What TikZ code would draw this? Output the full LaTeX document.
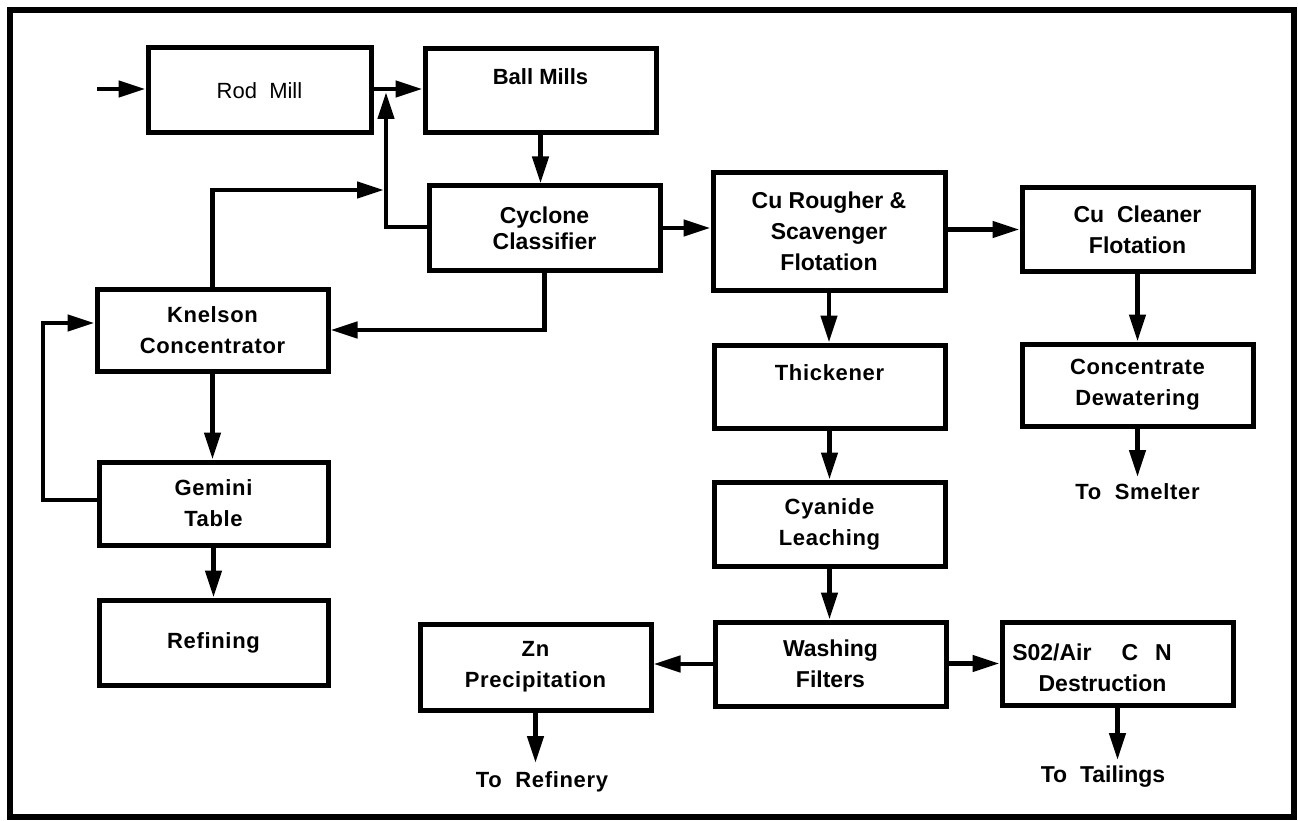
\documentclass[tikz,border=0pt]{standalone}
\usepackage{fontspec}
\setmainfont{Liberation Sans}
\usetikzlibrary{arrows.meta}
\begin{document}
\begin{tikzpicture}[x=1pt,y=-1pt,
  box/.style={draw, line width=5pt, inner sep=0pt, align=center},
  sb/.style={font=\fontsize{23}{31}\selectfont\bfseries},
  hv/.style={font=\fontsize{22}{31}\selectfont\bfseries\addfontfeature{LetterSpace=3}},
  arr/.style={line width=4.5pt, -{Triangle[length=27pt,width=16pt]}},
  lbl/.style={anchor=north, inner sep=0pt}]
\useasboundingbox (0,0) rectangle (1298,821);
\draw[line width=6pt] (10,10) rectangle (1294,817);

% boxes
\node[box, minimum width=223pt, minimum height=85pt, font=\fontsize{22}{30}\selectfont] (rod) at (259.5,90.5) {Rod\ \ Mill};
\node[box, minimum width=231pt, minimum height=84pt, font=\fontsize{22}{31}\selectfont\bfseries] (ball) at (540.5,91) {Ball Mills\\[-12pt]\strut};
\node[box, minimum width=231pt, minimum height=84pt, font=\fontsize{23}{26}\selectfont\bfseries] (cyc) at (544.5,228) {Cyclone\\Classifier};
\node[box, sb, minimum width=232pt, minimum height=117pt] (rough) at (829,231.5) {Cu Rougher \&\\Scavenger\\Flotation};
\node[box, sb, minimum width=231pt, minimum height=83pt] (clean) at (1137.5,229.5) {Cu\ \ Cleaner\\Flotation};
\node[box, hv, minimum width=231pt, minimum height=83pt] (thick) at (829.5,386.5) {Thickener\\[-12pt]\strut};
\node[box, hv, minimum width=231pt, minimum height=82pt] (conc) at (1137.5,385) {Concentrate\\Dewatering};
\node[box, hv, minimum width=231pt, minimum height=84pt] (cyan) at (829.5,524) {Cyanide\\Leaching};
\node[box, sb, minimum width=231pt, minimum height=84pt] (wash) at (830.5,664) {Washing\\Filters};
\node[box, hv, minimum width=231pt, minimum height=86pt] (zn) at (535.5,667) {Zn\\Precipitation};
\node[box, minimum width=231pt, minimum height=83pt] (so2) at (1117.5,663.5) {};
\node[sb, align=center, inner sep=0pt] (so2t) at (1092,668) {S02/Air\hspace{30pt}C\hspace{17pt}N\\\hspace*{21pt}Destruction};
\node[box, hv, minimum width=231pt, minimum height=82pt] (knel) at (212.5,330) {Knelson\\Concentrator};
\node[box, hv, minimum width=229pt, minimum height=83pt] (gem) at (213.5,503.5) {Gemini\\Table};
\node[box, hv, minimum width=229pt, minimum height=85pt] (ref) at (213.5,642.5) {Refining};

% outlet labels
\node[hv, lbl] (smelt) at (1137.5,483) {To\ \ Smelter};
\node[sb, lbl] (tail) at (1103,766) {To\ \ Tailings};
\node[hv, lbl] (refy) at (542,771) {To\ \ Refinery};

% helper points
\coordinate (in) at (97,89);
\coordinate (j1) at (386,89);
\coordinate (c1) at (386,227);
\coordinate (c2) at (386,190);
\coordinate (f1) at (43,500);
\coordinate (f2) at (43,323);

% connectors
\draw[arr] (in) -- (in -| rod.west);
\draw[arr] (j1 -| rod.east) -- (j1 -| ball.west);
\draw[arr, shorten >=3pt] (c1 -| cyc.west) -- (c1) -- (j1);
\draw[arr, shorten >=2pt] (knel.north) |- (c2);
\draw[arr] (ball.south) -- (ball.south |- cyc.north);
\draw[arr] (cyc.east) -- (cyc.east -| rough.west);
\draw[arr] (cyc.south) |- (knel.east);
\draw[arr] (knel.south) -- (knel.south |- gem.north);
\draw[arr] (f1 -| gem.west) -- (f1) -- (f2) -- (f2 -| knel.west);
\draw[arr] (gem.south) -- (ref.north);
\draw[arr] (rough.east |- clean.west) -- (clean.west);
\draw[arr] (rough.south) -- (rough.south |- thick.north);
\draw[arr] (clean.south) -- (conc.north);
\draw[arr] (thick.south) -- (cyan.north);
\draw[arr] (cyan.south) -- (cyan.south |- wash.north);
\draw[arr] (wash.west) -- (wash.west -| zn.east);
\draw[arr] (wash.east |- so2.west) -- (so2.west);
\draw[arr, shorten >=6pt] (conc.south) -- (smelt.north);
\draw[arr, shorten >=6pt] (so2.south) -- (so2.south |- tail.north);
\draw[arr, shorten >=8pt] (zn.south) -- (zn.south |- refy.north);
\end{tikzpicture}
\end{document}
